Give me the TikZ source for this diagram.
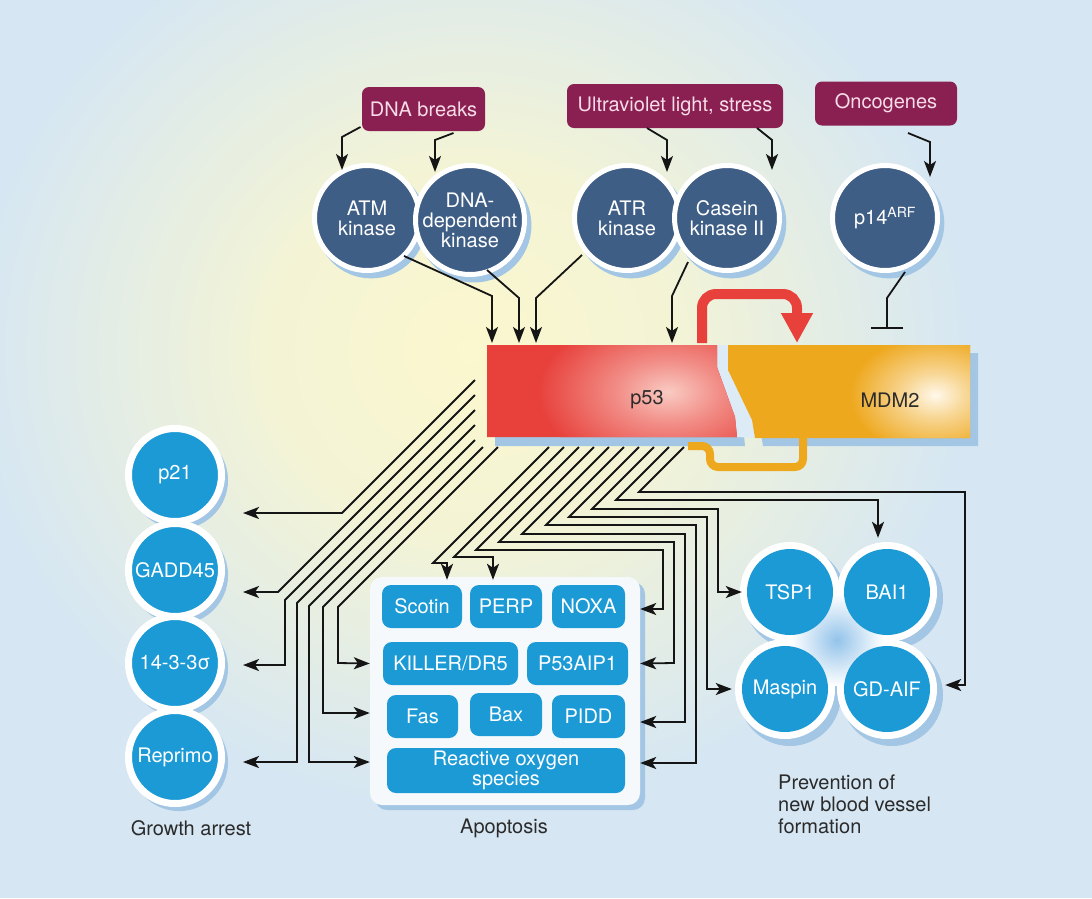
\documentclass[tikz,border=0pt]{standalone}
\usepackage{fontspec}
\setmainfont{TeX Gyre Heros}
\usetikzlibrary{arrows.meta,calc,shadows}

\definecolor{bgc}{HTML}{D6E7F3}
\definecolor{glowc}{HTML}{FBF7CE}
\definecolor{stressc}{HTML}{8A2051}
\definecolor{pinktxt}{HTML}{F7DCE8}
\definecolor{darkc}{HTML}{3F5E86}
\definecolor{cyanc}{HTML}{1B9AD6}
\definecolor{shadowc}{HTML}{A3C6E4}
\definecolor{p53red}{HTML}{E8413C}
\definecolor{p53light}{HTML}{F9CBC3}
\definecolor{mdmorange}{HTML}{EEA81E}
\definecolor{mdmlight}{HTML}{FFF8EA}
\definecolor{linec}{HTML}{151515}
\definecolor{txtc}{HTML}{2B2B2B}
\definecolor{gapc}{HTML}{DCEBF6}
\definecolor{clusterglow}{HTML}{93C3EA}
\definecolor{panelc}{HTML}{F5F9FC}

% the outer colour of each shading is reached at the rim of the shaded path (25bp)
\pgfdeclareradialshading{bgglow}{\pgfpoint{0bp}{0bp}}{color(0bp)=(glowc); color(10bp)=(glowc!80!bgc); color(25bp)=(bgc); color(50bp)=(bgc)}
\pgfdeclareradialshading{redglow}{\pgfpoint{0bp}{0bp}}{color(0bp)=(p53light); color(10bp)=(p53red!45!p53light); color(25bp)=(p53red); color(50bp)=(p53red)}
\pgfdeclareradialshading{orangeglow}{\pgfpoint{0bp}{0bp}}{color(0bp)=(mdmlight); color(10bp)=(mdmorange!45!mdmlight); color(25bp)=(mdmorange); color(50bp)=(mdmorange)}
\pgfdeclareradialshading{centreglow}{\pgfpoint{0bp}{0bp}}{color(0bp)=(clusterglow); color(25bp)=(white); color(50bp)=(white)}

\newcommand\setfs[2]{\fontsize{#1}{#2}\selectfont}

\tikzset{
  softshadow/.style={drop shadow={shadow xshift=4pt, shadow yshift=-5pt, shadow scale=1.05, fill=shadowc, opacity=1}},
  stressbox/.style={rounded corners=7pt, fill=stressc, text=pinktxt, font=\setfs{20}{22}, minimum height=44pt, inner sep=0pt},
  kinase/.style={circle, fill=darkc, text=white, draw=white, line width=5pt, minimum size=105pt, inner sep=0pt, align=center, font=\setfs{20}{20}, softshadow},
  target/.style={circle, fill=cyanc, text=white, draw=white, line width=7pt, minimum size=93pt, inner sep=0pt, font=\setfs{20}{20}, softshadow},
  cluster/.style={circle, fill=cyanc, text=white, minimum size=86pt, inner sep=0pt, font=\setfs{20}{20}},
  gene/.style={rounded corners=9pt, fill=cyanc, text=white, minimum height=43pt, inner sep=0pt, font=\setfs{20}{17}, align=center},
  link/.style={draw=linec, line width=1.8pt},
  arr/.style={link, -{Stealth[length=16pt, width=12pt, inset=4pt]}},
  caption/.style={text=txtc, font=\setfs{20}{22}, inner sep=0pt},
}

\begin{document}
\begin{tikzpicture}[x=1pt, y=-1pt]
\useasboundingbox (0,0) rectangle (1092,898);

% background with a warm glow behind p53
\fill[bgc] (0,0) rectangle (1092,898);
\begin{scope}
  \clip (0,0) rectangle (1092,898);
  \shade[shading=bgglow] (470,350) ellipse (500pt and 460pt);
\end{scope}

% ---------- upstream signals ----------
\node[stressbox, minimum width=123pt] (dna)  at (423.5,109) {DNA breaks};
\node[stressbox, minimum width=216pt] (uv)   at (675,106)   {Ultraviolet light, stress};
\node[stressbox, minimum width=142pt] (onco) at (886,103.5) {Oncogenes};

\node[kinase] (atm)   at (367,218) {ATM\\kinase};
\node[kinase] (dnapk) at (470,220) {DNA-\\dependent\\kinase};
\node[kinase] (atr)   at (627,218) {ATR\\kinase};
\node[kinase] (ck2)   at (727,218) {Casein\\kinase II};
\node[kinase] (arf)   at (885,218) {p14\textsuperscript{ARF}};

\draw[arr] ($(dna)+(-63,18)$) -- (342,137) -- ($(atm)+(-25,-48)$);
\draw[arr] ($(dna)+(30,24)$) -- (435,140) -- ($(dnapk)+(-35,-48)$);
\draw[arr] ($(uv)+(-28,22)$) -- (667,140) -- ($(atr)+(40,-46)$);
\draw[arr] ($(uv)+(82,22)$) -- (772,140) -- ($(ck2)+(45,-48)$);
\draw[arr] ($(onco)+(22,29.5)$) -- (930,142) -- ($(arf)+(45,-41)$);

% ---------- p53 / MDM2 ----------
\node[font=\setfs{20}{20}, text=txtc, inner sep=0pt] (p53)  at (647,400) {\phantom{p53}};
\node[font=\setfs{20}{20}, text=txtc, inner sep=0pt] (mdm2) at (890,400) {\phantom{MDM2}};

% drop shadows of the two blocks
\fill[shadowc, shift={(8,9)}] (487,345) -- (717,345) -- (717,367) -- (735,417) -- (737,437) -- (487,437) -- cycle;
\fill[shadowc, shift={(8,8)}] (728,345) -- (970,345) -- (970,438) -- (755,438) -- (752,420) -- (728,370) -- cycle;
% pale seam between the blocks
\fill[gapc] (717,345) -- (728,345) -- (728,370) -- (752,420) -- (755,438) -- (737,437) -- (735,417) -- (717,367) -- cycle;

% orange bracket under the blocks
\draw[mdmorange, line width=8pt, rounded corners=8pt] (688,446) -- (710,446) -- (710,467) -- (803,467) -- (803,438);

% p53 block
\begin{scope}
  \clip (487,345) -- (717,345) -- (717,367) -- (735,417) -- (737,437) -- (487,437) -- cycle;
  \fill[p53red] (480,340) rectangle (740,440);
  \shade[shading=redglow] (668,392) ellipse (130pt and 80pt);
\end{scope}
% MDM2 block
\begin{scope}
  \clip (728,345) -- (970,345) -- (970,438) -- (755,438) -- (752,420) -- (728,370) -- cycle;
  \fill[mdmorange] (720,340) rectangle (975,440);
  \shade[shading=orangeglow] (935,395) ellipse (85pt and 60pt);
\end{scope}
\node[font=\setfs{20}{20}, text=txtc, inner sep=0pt] at (p53) {p53};
\node[font=\setfs{20}{20}, text=txtc, inner sep=0pt] at (mdm2) {MDM2};

% kinases acting on p53
\draw[arr] ($(atm)+(37,38)$) -- (492,296) -- ($(p53)+(-155,-57)$);
\draw[arr] ($(dnapk)+(17,50)$) -- (519,298) -- ($(p53)+(-128,-57)$);
\draw[arr] ($(atr)+(-45,37)$) -- (536,298) -- ($(p53)+(-111,-57)$);
\draw[arr] ($(ck2)+(-39,44)$) -- (672,296) -- ($(p53)+(25,-57)$);

% p14ARF blocks MDM2
\draw[link, -{Bar[width=32pt, line width=2pt]}] ($(arf)+(20,54)$) -- (887,298) -- ($(mdm2)+(-3,-71)$);

% p53 induces MDM2
\draw[p53red, line width=10pt, rounded corners=14pt, -{Triangle[length=30pt, width=30pt]}]
  ($(p53)+(55,-57)$) -- (702,294) -- (797,294) -- ($(mdm2)+(-93,-57)$);

% ---------- growth arrest ----------
\node[target] (p21)     at (175,475) {p21};
\node[target] (gadd)    at (175,570) {GADD45};
\node[target] (sigma)   at (175,663) {14-3-3σ};
\node[target] (reprimo) at (175,757) {Reprimo};

% ---------- apoptosis panel ----------
\node[fill=panelc, rounded corners=12pt, minimum width=270pt, minimum height=228pt, inner sep=0pt,
      drop shadow={shadow xshift=5pt, shadow yshift=-5pt, fill=shadowc, opacity=1}] (apo) at (505,691) {};
\node[gene, minimum width=80pt]  (scotin) at (422,606.5)   {Scotin};
\node[gene, minimum width=72pt]  (perp)   at (506,606.5)   {PERP};
\node[gene, minimum width=73pt]  (noxa)   at (588.5,606.5) {NOXA};
\node[gene, minimum width=135pt] (killer) at (450.5,663.5) {KILLER/DR5};
\node[gene, minimum width=101pt] (aip)    at (577.5,663.5) {P53AIP1};
\node[gene, minimum width=71pt]  (fas)    at (422.5,716.5) {Fas};
\node[gene, minimum width=72pt]  (bax)    at (506,714.5)   {Bax};
\node[gene, minimum width=73pt]  (pidd)   at (588.5,716.5) {PIDD};
\node[gene, minimum width=238pt, minimum height=45pt] (ros) at (506,770.5) {Reactive oxygen\\species};

% ---------- anti-angiogenic cluster ----------
\foreach \cx/\cy in {790/592, 887/592, 785/689, 887/689}
  \fill[shadowc] (\cx+5,\cy+6) circle (51pt);
\foreach \cx/\cy in {790/592, 887/592, 785/689, 887/689}
  \fill[white] (\cx,\cy) circle (50pt);
\shade[shading=centreglow] (837,640) circle (46pt);
\node[cluster] (tsp1)  at (790,592) {TSP1};
\node[cluster] (bai1)  at (887,592) {BAI1};
\node[cluster] (maspin) at (785,689) {Maspin};
\node[cluster] (gdaif) at (887,689) {GD-AIF};

% ---------- transcriptional targets of p53 ----------
\coordinate (g1) at (475,380);
\coordinate (g2) at (475,395);
\coordinate (g3) at (475,410);
\coordinate (g4) at (475,425);
\coordinate (g5) at (475,440);
\coordinate (g6) at (483,447);
\coordinate (g7) at (498,447);
\coordinate (r0) at (549,447);
\coordinate (r1) at (564,447);
\coordinate (r2) at (579,447);
\coordinate (r3) at (594,447);
\coordinate (r4) at (609,447);
\coordinate (r5) at (624,447);
\coordinate (r6) at (639,447);
\coordinate (r7) at (654,447);
\coordinate (r8) at (669,447);
\coordinate (r9) at (684,447);

\draw[arr] (g1) -- (342,513) -- ($(p21.east)+(18,38)$);
\draw[arr] (g2) -- (278,592) -- ($(gadd.east)+(18,22)$);
\draw[arr] (g3) -- (285,600) -- (285,665) -- ($(sigma.east)+(18,2)$);
\draw[arr] (g4) -- (297,603) -- (297,762) -- ($(reprimo.east)+(18,5)$);
\draw[arr] (g5) -- (309,606) -- (309,762) -- ($(apo.west)+(0,71)$);
\draw[arr] (g6) -- (323,607) -- (323,713) -- ($(apo.west)+(0,22)$);
\draw[arr] (g7) -- (338,607) -- (338,663) -- (apo.west |- killer);

\draw[arr] (r0) -- (433,563) -- (447,563) -- ($(scotin.north)+(25,-5)$);
\draw[arr] (r1) -- (454,557) -- (493,557) -- ($(perp.north)+(-13,-5)$);
\draw[arr] (r2) -- (476,550) -- (663,550) -- (663,609) -- ($(apo.east)+(0,-82)$);
\draw[arr] (r3) -- (499,542) -- (674,542) -- (674,663) -- (apo.east |- aip);
\draw[arr] (r4) -- (522,534) -- (685,534) -- (685,722) -- ($(apo.east)+(0,31)$);
\draw[arr] (r5) -- (546,525) -- (696,525) -- (696,763) -- ($(apo.east)+(0,72)$);
\draw[arr] (r6) -- (569,517) -- (707,517) -- (707,689) -- ($(maspin.west)+(-10,0)$);
\draw[arr] (r7) -- (592,509) -- (718,509) -- (718,592) -- ($(tsp1.west)+(-5,0)$);
\draw[arr] (r8) -- (616,500) -- (878,500) -- ($(bai1.north)+(-9,-11)$);
\draw[arr] (r9) -- (639,492) -- (965,492) -- (965,685) -- ($(gdaif.east)+(15,-4)$);

% ---------- captions ----------
\node[caption] (lgrowth) at (191,828) {Growth arrest};
\node[caption] (lapop)   at (504,828) {Apoptosis};
\node[caption, align=left, anchor=north west] (lvessel) at (778,775) {Prevention of\\new blood vessel\\formation};
\end{tikzpicture}
\end{document}
